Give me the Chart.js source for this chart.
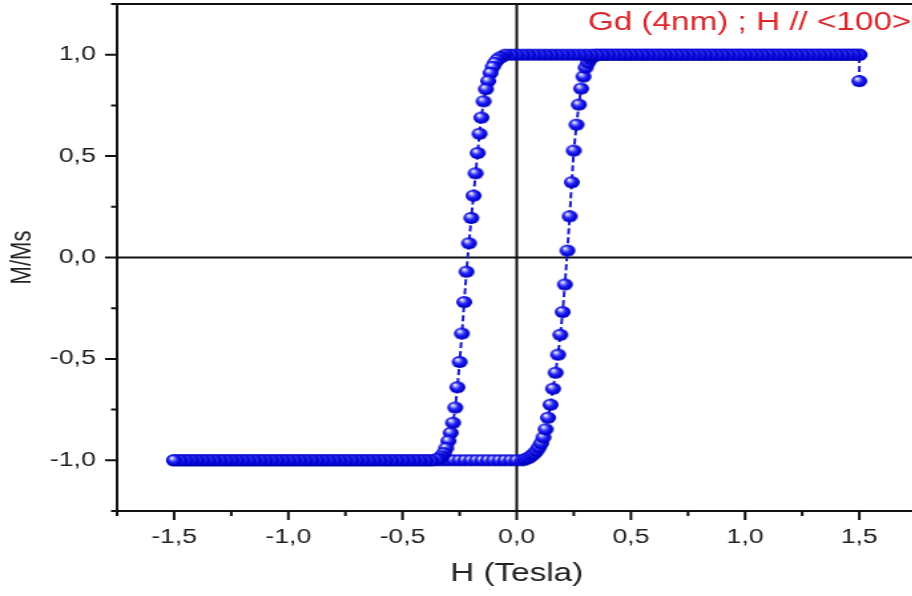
<!DOCTYPE html>
<html>
<head>
<meta charset="utf-8">
<script src="https://cdn.jsdelivr.net/npm/chart.js@4.4.1/dist/chart.umd.min.js"></script>
<style>
  html, body { margin: 0; padding: 0; background: #fff; overflow: hidden; }
  /* the original figure is stretched sideways, so the whole chart is too */
  #wrap { width: 692px; height: 596px; transform: scaleX(1.33); transform-origin: 0 0; }
</style>
</head>
<body>
<div id="wrap"><canvas id="loop" width="692" height="596"></canvas></div>
<script>
// descending branch (H from +1,5 T to -1,5 T)
const downTopH = [
  1.5, 1.5, 1.475, 1.45, 1.425, 1.4, 1.375, 1.35, 1.325, 1.3,
  1.275, 1.25, 1.225, 1.2, 1.175, 1.15, 1.125, 1.1, 1.075, 1.05,
  1.025, 1, 0.975, 0.95, 0.925, 0.9, 0.875, 0.85, 0.825, 0.8,
  0.775, 0.75, 0.725, 0.7, 0.675, 0.65, 0.625, 0.6, 0.575, 0.55,
  0.525, 0.5, 0.475, 0.45, 0.425, 0.4, 0.375, 0.35, 0.325, 0.3,
  0.275, 0.25, 0.225, 0.2, 0.175, 0.15, 0.125, 0.1, 0.075, 0.05,
  0.025, 0, -0.025, -0.05
];
const downTopM = [
  0.87, 1, 1, 1, 1, 1, 1, 1, 1, 1,
  1, 1, 1, 1, 1, 1, 1, 1, 1, 1,
  1, 1, 1, 1, 1, 1, 1, 1, 1, 1,
  1, 1, 1, 1, 1, 1, 1, 1, 1, 1,
  1, 1, 1, 1, 1, 1, 1, 1, 1, 1,
  1, 1, 1, 1, 1, 1, 1, 1, 1, 1,
  1, 1, 1, 1
];
const downSwitchH = [
  -0.065, -0.075, -0.085, -0.095, -0.105, -0.115, -0.125, -0.135, -0.145, -0.155,
  -0.163, -0.171, -0.18, -0.189, -0.199, -0.209, -0.22, -0.23, -0.24, -0.25,
  -0.26, -0.269, -0.279, -0.289, -0.299, -0.309, -0.319, -0.329, -0.339, -0.35
];
const downSwitchM = [
  0.99, 0.985, 0.975, 0.96, 0.94, 0.91, 0.87, 0.83, 0.77, 0.69,
  0.61, 0.515, 0.415, 0.305, 0.195, 0.07, -0.07, -0.22, -0.375, -0.515,
  -0.64, -0.74, -0.815, -0.865, -0.905, -0.94, -0.965, -0.98, -0.99, -0.995
];
const downBottomH = [
  -0.375, -0.4, -0.425, -0.45, -0.475, -0.5, -0.525, -0.55, -0.575, -0.6,
  -0.625, -0.65, -0.675, -0.7, -0.725, -0.75, -0.775, -0.8, -0.825, -0.85,
  -0.875, -0.9, -0.925, -0.95, -0.975, -1, -1.025, -1.05, -1.075, -1.1,
  -1.125, -1.15, -1.175, -1.2, -1.225, -1.25, -1.275, -1.3, -1.325, -1.35,
  -1.375, -1.4, -1.425, -1.45, -1.475, -1.5
];
const downBottomM = [
  -1, -1, -1, -1, -1, -1, -1, -1, -1, -1,
  -1, -1, -1, -1, -1, -1, -1, -1, -1, -1,
  -1, -1, -1, -1, -1, -1, -1, -1, -1, -1,
  -1, -1, -1, -1, -1, -1, -1, -1, -1, -1,
  -1, -1, -1, -1, -1, -1
];

// ascending branch (H from -1,5 T to +1,5 T)
const upBottomH = [
  -1.5, -1.475, -1.45, -1.425, -1.4, -1.375, -1.35, -1.325, -1.3, -1.275,
  -1.25, -1.225, -1.2, -1.175, -1.15, -1.125, -1.1, -1.075, -1.05, -1.025,
  -1, -0.975, -0.95, -0.925, -0.9, -0.875, -0.85, -0.825, -0.8, -0.775,
  -0.75, -0.725, -0.7, -0.675, -0.65, -0.625, -0.6, -0.575, -0.55, -0.525,
  -0.5, -0.475, -0.45, -0.425, -0.4, -0.375, -0.35, -0.325, -0.3, -0.275,
  -0.25, -0.225, -0.2, -0.175, -0.15, -0.125, -0.1, -0.075, -0.05, -0.025,
  0, 0.025
];
const upBottomM = [
  -1, -1, -1, -1, -1, -1, -1, -1, -1, -1,
  -1, -1, -1, -1, -1, -1, -1, -1, -1, -1,
  -1, -1, -1, -1, -1, -1, -1, -1, -1, -1,
  -1, -1, -1, -1, -1, -1, -1, -1, -1, -1,
  -1, -1, -1, -1, -1, -1, -1, -1, -1, -1,
  -1, -1, -1, -1, -1, -1, -1, -1, -1, -1,
  -1, -1
];
const upSwitchH = [
  0.037, 0.047, 0.057, 0.067, 0.077, 0.087, 0.097, 0.107, 0.117, 0.127,
  0.137, 0.148, 0.159, 0.17, 0.181, 0.191, 0.201, 0.211, 0.222, 0.232,
  0.241, 0.25, 0.262, 0.272, 0.282, 0.292, 0.302, 0.312, 0.322, 0.332,
  0.342
];
const upSwitchM = [
  -0.995, -0.99, -0.985, -0.975, -0.966, -0.953, -0.936, -0.916, -0.887, -0.847,
  -0.79, -0.726, -0.647, -0.568, -0.479, -0.381, -0.269, -0.133, 0.034, 0.203,
  0.371, 0.527, 0.655, 0.754, 0.833, 0.892, 0.936, 0.961, 0.98, 0.99,
  0.995
];
const upTopH = [
  0.35, 0.375, 0.4, 0.425, 0.45, 0.475, 0.5, 0.525, 0.55, 0.575,
  0.6, 0.625, 0.65, 0.675, 0.7, 0.725, 0.75, 0.775, 0.8, 0.825,
  0.85, 0.875, 0.9, 0.925, 0.95, 0.975, 1, 1.025, 1.05, 1.075,
  1.1, 1.125, 1.15, 1.175, 1.2, 1.225, 1.25, 1.275, 1.3, 1.325,
  1.35, 1.375, 1.4, 1.425, 1.45, 1.475, 1.5
];
const upTopM = [
  1, 1, 1, 1, 1, 1, 1, 1, 1, 1,
  1, 1, 1, 1, 1, 1, 1, 1, 1, 1,
  1, 1, 1, 1, 1, 1, 1, 1, 1, 1,
  1, 1, 1, 1, 1, 1, 1, 1, 1, 1,
  1, 1, 1, 1, 1, 1, 1
];

const xTickValues = [-1.5, -1, -0.5, 0, 0.5, 1, 1.5];
const xTickLabels = ['-1,5', '-1,0', '-0,5', '0,0', '0,5', '1,0', '1,5'];
const yTickValues = [-1, -0.5, 0, 0.5, 1];
const yTickLabels = ['-1,0', '-0,5', '0,0', '0,5', '1,0'];
const titleText = 'Gd (4nm) ; H // <100>';

function pts(hs, ms) {
  return hs.map((h, i) => ({x: h, y: ms[i]}));
}
const downBranch = pts(downTopH, downTopM)
  .concat(pts(downSwitchH, downSwitchM), pts(downBottomH, downBottomM));
const upBranch = pts(upBottomH, upBottomM)
  .concat(pts(upSwitchH, upSwitchM), pts(upTopH, upTopM));

// shaded blue ball used as marker
const ball = document.createElement('canvas');
ball.width = 14; ball.height = 14;
(function () {
  const b = ball.getContext('2d');
  const g = b.createRadialGradient(5, 4.5, 0.3, 7, 7, 6.5);
  g.addColorStop(0, '#ffffff');
  g.addColorStop(0.18, '#a8a8ff');
  g.addColorStop(0.45, '#2b2bf6');
  g.addColorStop(0.8, '#0000d6');
  g.addColorStop(1, '#00008c');
  b.fillStyle = g;
  b.beginPath();
  b.arc(7, 7, 6, 0, Math.PI * 2);
  b.fill();
})();

const FONT = "'Liberation Sans', Arial, sans-serif";

const frame = {
  id: 'frame',
  beforeDatasetsDraw(chart) {
    const {ctx, chartArea: a, scales: {x, y}} = chart;
    ctx.save();
    ctx.strokeStyle = '#111';
    ctx.lineWidth = 2;
    const x0 = x.getPixelForValue(0), y0 = y.getPixelForValue(0);
    ctx.beginPath();
    ctx.moveTo(x0, a.top); ctx.lineTo(x0, a.bottom);
    ctx.moveTo(a.left, y0); ctx.lineTo(a.right, y0);
    ctx.stroke();
    ctx.strokeRect(a.left, a.top, a.right - a.left, a.bottom - a.top);
    ctx.beginPath();
    for (let v = -1.75; v <= 1.751; v += 0.25) {
      const major = Math.abs(v * 2 - Math.round(v * 2)) < 1e-6;
      const px = x.getPixelForValue(v);
      ctx.moveTo(px, a.bottom); ctx.lineTo(px, a.bottom + (major ? 9 : 5));
    }
    for (let v = -1.25; v <= 1.251; v += 0.25) {
      const major = Math.abs(v * 2 - Math.round(v * 2)) < 1e-6;
      const py = y.getPixelForValue(v);
      ctx.moveTo(a.left, py); ctx.lineTo(a.left - (major ? 9 : 4.5), py);
    }
    ctx.stroke();
    ctx.restore();
  },
  afterDraw(chart) {
    const ctx = chart.ctx;
    ctx.save();
    ctx.fillStyle = '#d9262a';
    ctx.font = '25px ' + FONT;
    ctx.textBaseline = 'middle';
    ctx.textAlign = 'left';
    ctx.fillText(titleText, 442, 23);
    ctx.restore();
  }
};

const lineStyle = {
  showLine: true,
  borderColor: '#1a1ad0',
  borderWidth: 2,
  borderDash: [6, 3],
  pointStyle: ball,
  pointRadius: 6,
  fill: false
};

function noPad(s) {
  s.paddingTop = 0; s.paddingBottom = 0; s.paddingLeft = 0; s.paddingRight = 0;
}

new Chart(document.getElementById('loop'), {
  type: 'scatter',
  data: {
    datasets: [
      Object.assign({label: 'down', data: downBranch}, lineStyle),
      Object.assign({label: 'up', data: upBranch}, lineStyle)
    ]
  },
  options: {
    responsive: false,
    animation: false,
    layout: {autoPadding: false, padding: {top: 4, right: 3, left: 0, bottom: 0}},
    plugins: {legend: {display: false}, tooltip: {enabled: false}},
    scales: {
      x: {
        type: 'linear', min: -1.75, max: 1.75,
        grid: {display: false, drawTicks: false},
        border: {display: false},
        afterBuildTicks: s => { s.ticks = xTickValues.map(v => ({value: v})); },
        afterFit: s => { s.height = 85; noPad(s); },
        ticks: {
          autoSkip: false, maxRotation: 0, padding: 14,
          color: '#222', font: {family: FONT, size: 20},
          callback: (v, i) => xTickLabels[i]
        },
        title: {
          display: true, text: 'H (Tesla)', color: '#222',
          font: {family: FONT, size: 25}, padding: {top: 0, bottom: 7}
        }
      },
      y: {
        type: 'linear', min: -1.25, max: 1.25,
        grid: {display: false, drawTicks: false},
        border: {display: false},
        afterBuildTicks: s => { s.ticks = yTickValues.map(v => ({value: v})); },
        afterFit: s => { s.width = 88; noPad(s); },
        ticks: {
          autoSkip: false, padding: 16,
          color: '#222', font: {family: FONT, size: 20},
          callback: (v, i) => yTickLabels[i]
        },
        title: {
          display: true, text: 'M/Ms', color: '#222',
          font: {family: FONT, size: 22}, padding: {top: 4, bottom: 0}
        }
      }
    }
  },
  plugins: [frame]
});
</script>
</body>
</html>
